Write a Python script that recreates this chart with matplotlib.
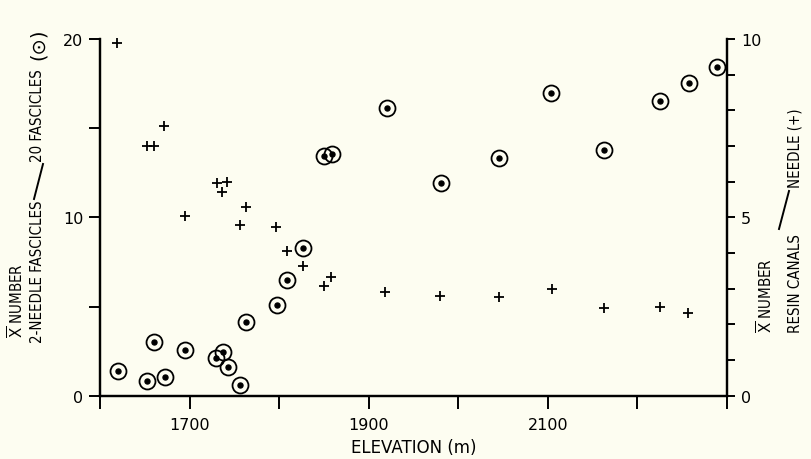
import matplotlib
matplotlib.use("Agg")
import matplotlib.pyplot as plt
from matplotlib.lines import Line2D
from matplotlib import font_manager

# Data: 2-needle fascicles per 20 fascicles (left axis)
fasc_elev = [1620, 1652, 1660, 1673, 1695, 1730, 1737, 1743, 1756, 1763,
             1798, 1809, 1827, 1850, 1859, 1920, 1981, 2045, 2103, 2163,
             2225, 2258, 2289]
fasc_vals = [1.4, 0.8, 3.0, 1.05, 2.55, 2.1, 2.45, 1.6, 0.6, 4.15,
             5.1, 6.5, 8.3, 13.45, 13.55, 16.15, 11.9, 13.3, 17.0, 13.75,
             16.55, 17.55, 18.45]

# Data: resin canals per needle (right axis)
resin_elev = [1619, 1652, 1660, 1672, 1695, 1731, 1736, 1742, 1756, 1763,
              1797, 1809, 1827, 1850, 1858, 1918, 1980, 2045, 2105, 2163,
              2225, 2256]
resin_vals = [9.9, 7.0, 7.0, 7.55, 5.05, 5.95, 5.7, 6.0, 4.78, 5.3,
              4.72, 4.05, 3.65, 3.08, 3.33, 2.92, 2.8, 2.78, 3.0, 2.45,
              2.5, 2.33]

x_ticks = [1600, 1700, 1800, 1900, 2000, 2100, 2200, 2300]
x_labels = ["", "1700", "", "1900", "", "2100", "", ""]
left_ticks = [0, 5, 10, 15, 20]
left_labels = ["0", "", "10", "", "20"]
right_ticks = list(range(0, 11))
right_labels = ["0", "", "", "", "", "5", "", "", "", "", "10"]

has_cond = any(f.name == "DejaVu Sans" and str(f.stretch) in ("condensed", "semi-condensed")
               for f in font_manager.fontManager.ttflist)
STRETCH = "condensed" if has_cond else "normal"
fs = 10.8 if has_cond else 9.6

BG = "#fdfdf1"
W, H = 811, 460
fig = plt.figure(figsize=(W / 100, H / 100), dpi=100, facecolor=BG)
ax = fig.add_axes([100 / W, 1 - 396.7 / H, 627 / W, 356.7 / H])
ax.set_facecolor(BG)
ax2 = ax.twinx()

ax.set_xlim(1600, 2300)
ax.set_ylim(0, 20)
ax2.set_ylim(0, 10)

# circles with dot
ax.plot(fasc_elev, fasc_vals, linestyle="none", marker="o", markersize=11.5,
        markerfacecolor="none", markeredgecolor="black", markeredgewidth=1.3,
        clip_on=False)
ax.plot(fasc_elev, fasc_vals, linestyle="none", marker="o", markersize=3.6,
        markerfacecolor="black", markeredgecolor="black", clip_on=False)
# pluses
ax2.plot(resin_elev, resin_vals, linestyle="none", marker="+", markersize=7,
         markeredgewidth=1.3, color="black", clip_on=False)

for a in (ax, ax2):
    a.spines["top"].set_visible(False)
    for s in ("left", "right", "bottom"):
        a.spines[s].set_linewidth(1.6)
        a.spines[s].set_color("black")

ax.set_xticks(x_ticks)
ax.set_xticklabels(x_labels)
ax.set_yticks(left_ticks)
ax.set_yticklabels(left_labels)
ax2.set_yticks(right_ticks)
ax2.set_yticklabels(right_labels)

ax.tick_params(axis="x", direction="out", length=9, width=1.4, pad=6,
               labelsize=11.5)
ax.tick_params(axis="y", direction="out", length=8, width=1.4, pad=4,
               labelsize=11.5)
ax2.tick_params(axis="y", direction="out", length=6, width=1.4, pad=4,
                labelsize=11.5)

ax.set_xlabel("ELEVATION (m)", fontsize=12, labelpad=5)

xbar = r"$\overline{\mathrm{X}}$ NUMBER"
kw = dict(rotation=90, ha="center", fontsize=fs, fontstretch=STRETCH)
# left labels
fig.text(17 / W, 1 - 338 / H, xbar, va="bottom", **kw)
fig.text(38 / W, 1 - 343 / H, "2-NEEDLE FASCICLES", va="bottom", **kw)
fig.text(38 / W, 1 - 162 / H, "20 FASCICLES", va="bottom", **kw)
fig.text(38 / W, 1 - 60 / H, "(\u2299)", rotation=90, ha="center",
         va="bottom", fontsize=14)
fig.add_artist(Line2D([34 / W, 43 / W], [1 - 200 / H, 1 - 165 / H],
                      color="black", linewidth=1.4, transform=fig.transFigure))

# right labels
fig.text(766 / W, 1 - 333 / H, xbar, va="bottom", **kw)
fig.text(795 / W, 1 - 333 / H, "RESIN CANALS", va="bottom", **kw)
fig.text(795 / W, 1 - 188 / H, "NEEDLE (+)", va="bottom", **kw)
fig.add_artist(Line2D([779 / W, 789 / W], [1 - 230 / H, 1 - 192 / H],
                      color="black", linewidth=1.4, transform=fig.transFigure))

fig.savefig("out.png", dpi=100, facecolor=BG)
